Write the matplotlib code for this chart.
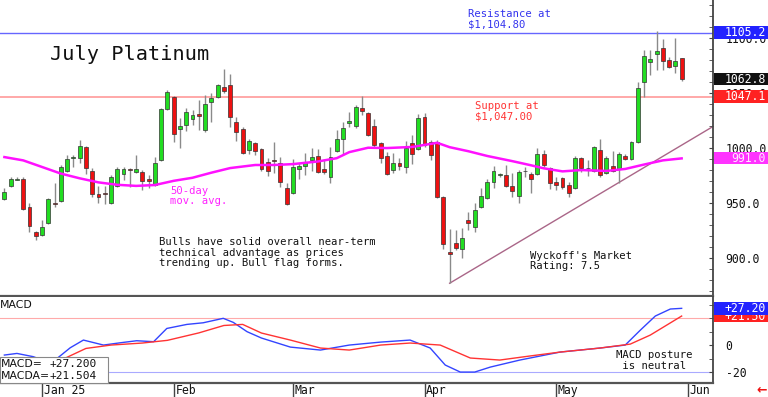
import matplotlib
matplotlib.use("Agg")
import matplotlib.pyplot as plt
from matplotlib.patches import Rectangle
from matplotlib.transforms import blended_transform_factory
from matplotlib.ticker import MultipleLocator, FuncFormatter

# ---------------- data ----------------
opens = [953.9, 966.0, 971.5, 971.8, 947.0, 923.9, 921.2, 931.8, 950.3, 952.4,
         979.7, 991.5, 990.9, 1001.5, 979.4, 958.2, 959.1, 950.6, 965.7, 976.3,
         980.9, 978.2, 978.2, 972.1, 966.6, 989.4, 1035.4, 1046.3, 1017.2, 1021.2,
         1026.7, 1031.2, 1016.6, 1042.4, 1047.0, 1056.0, 1057.5, 1023.6, 1017.5, 998.5,
         1004.5, 999.1, 987.8, 989.4, 986.3, 963.6, 959.1, 980.9, 983.9, 989.4,
         993.0, 980.9, 974.2, 997.9, 1008.2, 1022.7, 1020.3, 1036.3, 1032.4, 1020.3,
         1005.1, 993.0, 980.3, 987.0, 983.3, 1005.1, 999.1, 1028.8, 1006.0, 1006.0,
         956.0, 905.4, 913.6, 908.2, 934.8, 928.2, 947.0, 954.5, 969.7, 975.6,
         975.7, 965.7, 956.6, 979.6, 976.6, 976.3, 994.5, 981.8, 969.1, 972.7,
         966.7, 963.6, 991.5, 982.1, 979.7, 998.5, 977.3, 984.2, 981.2, 993.3,
         990.0, 1005.4, 1060.0, 1078.8, 1085.4, 1091.5, 1080.3, 1075.1, 1081.8]
highs = [963.6, 974.2, 974.0, 974.2, 950.6, 925.1, 934.8, 954.5, 968.2, 984.8,
         994.0, 994.0, 1007.6, 1002.1, 981.8, 965.7, 965.7, 975.7, 982.7, 982.7,
         981.8, 994.0, 980.3, 975.7, 992.4, 1037.0, 1053.0, 1047.6, 1027.3, 1036.4,
         1034.8, 1044.0, 1048.5, 1050.0, 1058.5, 1071.8, 1067.6, 1028.2, 1019.7, 1008.2,
         1006.0, 1000.0, 990.9, 1006.0, 992.4, 968.2, 990.0, 987.0, 995.4, 1000.0,
         999.1, 990.0, 1000.9, 1016.6, 1024.2, 1033.3, 1039.4, 1047.5, 1033.3, 1026.3,
         1006.0, 997.0, 996.0, 990.9, 1006.9, 1012.1, 1031.2, 1031.8, 1007.6, 1007.6,
         956.6, 926.3, 925.7, 927.3, 942.4, 950.0, 963.6, 971.8, 983.9, 977.9,
         984.8, 977.9, 980.3, 982.7, 978.8, 1000.0, 998.5, 983.3, 974.2, 974.2,
         969.7, 993.0, 992.4, 989.4, 1002.4, 1008.5, 993.3, 997.6, 996.9, 994.5,
         1006.7, 1060.6, 1089.4, 1089.4, 1106.5, 1099.4, 1083.3, 1100.6, 1082.4]
lows = [953.0, 965.1, 971.0, 943.9, 924.2, 916.7, 920.3, 931.2, 947.0, 951.5,
        978.8, 982.7, 986.3, 976.6, 956.0, 950.0, 949.4, 949.4, 964.5, 971.2,
        964.5, 977.9, 962.1, 963.6, 966.0, 988.8, 1034.8, 1006.0, 1000.0, 1016.0,
        1021.2, 1016.6, 1015.0, 1024.2, 1045.4, 1050.0, 1019.7, 1007.0, 994.8, 994.8,
        993.9, 979.4, 974.8, 977.3, 964.5, 948.5, 958.5, 971.8, 975.7, 979.7,
        977.9, 976.6, 968.8, 997.0, 994.8, 1019.7, 1018.2, 1030.3, 1011.2, 1001.5,
        986.3, 975.7, 977.2, 980.3, 977.9, 985.7, 998.5, 1001.5, 989.4, 954.5,
        908.2, 877.3, 907.6, 900.0, 925.7, 924.2, 945.4, 953.6, 963.6, 973.6,
        965.1, 955.4, 950.0, 974.2, 959.1, 975.7, 983.3, 963.0, 962.1, 963.0,
        956.1, 963.0, 978.8, 975.1, 978.8, 974.2, 976.3, 978.8, 968.2, 989.4,
        989.4, 1004.5, 1047.0, 1066.6, 1071.2, 1071.2, 1073.3, 1068.2, 1061.2]
closes = [960.6, 972.1, 972.2, 944.5, 929.4, 920.3, 928.8, 953.9, 949.7, 983.3,
          990.3, 992.4, 1002.4, 981.8, 958.2, 955.4, 958.8, 974.2, 980.9, 981.2,
          980.3, 981.2, 970.3, 970.3, 986.3, 1035.4, 1050.9, 1013.0, 1020.6, 1033.3,
          1030.3, 1029.4, 1040.3, 1045.4, 1057.5, 1052.4, 1028.2, 1015.1, 995.4, 1006.7,
          997.9, 981.2, 979.7, 988.2, 969.7, 949.4, 983.3, 983.9, 987.2, 991.8,
          978.8, 978.8, 991.8, 1008.2, 1018.2, 1024.8, 1037.2, 1034.2, 1012.1, 1003.0,
          990.9, 976.6, 987.0, 983.9, 1000.0, 994.8, 1027.2, 1003.0, 993.9, 955.4,
          913.0, 903.9, 909.7, 918.2, 932.4, 943.9, 956.6, 969.1, 979.4, 975.9,
          965.7, 961.5, 978.8, 979.1, 972.1, 994.5, 984.8, 968.2, 966.7, 965.1,
          959.7, 991.5, 982.4, 981.8, 1000.9, 975.7, 991.5, 979.7, 994.8, 990.0,
          1005.4, 1055.1, 1084.2, 1081.2, 1088.5, 1079.4, 1074.2, 1079.4, 1062.8]

# 50-day moving average, read at candle positions
ma_idx = [0, 3, 6, 9, 12, 15, 18, 21, 24, 27, 30, 33, 36, 40, 43, 46, 50, 53, 55,
          58, 61, 65, 68, 69, 71, 74, 77, 81, 84, 86, 89, 92, 96, 99, 102, 105, 108]
ma_val = [992.0, 989.0, 983.0, 977.0, 972.7, 969.0, 966.8, 965.8, 966.6, 970.4,
          973.2, 977.8, 982.0, 984.8, 984.8, 985.6, 988.0, 991.0, 996.5, 1000.5,
          1000.2, 1001.2, 1004.0, 1005.0, 1001.0, 997.3, 993.0, 988.3, 984.5, 981.8,
          979.0, 980.2, 979.4, 981.2, 985.2, 989.0, 990.8]

# MACD lines, read at candle positions
macd_idx = [0, 2, 4.6, 6, 8.4, 10.5, 12.6, 15.8, 18.5, 21.1, 23.8, 25.9, 29.1, 31.7,
            34.9, 36.5, 38.7, 41, 45.6, 50.4, 55, 60, 64.7, 67.9, 70.3, 72.7, 75,
            77.5, 82.2, 88.6, 95, 99, 101.4, 103.8, 106.2, 108]
macd_val = [-7.4, -6.2, -8.6, -11.0, -9.9, -2.0, 3.7, 0.0, 1.7, 3.2, 2.5, 12.3, 15.3,
            16.5, 19.8, 16.8, 9.9, 5.2, -1.5, -3.7, 0.0, 2.2, 3.7, -2.2, -14.8, -20.0,
            -20.0, -16.3, -11.1, -5.2, -2.2, 0.0, 11.0, 21.5, 26.7, 27.2]
sig_idx = [0, 9.6, 13, 17, 22, 26, 31, 35, 38, 41, 45.6, 50.4, 55, 60, 64.7, 69.5,
           74.3, 79, 83.8, 88.6, 95, 99.8, 103, 108]
sig_val = [-9.9, -9.9, -2.5, 0.0, 1.5, 3.5, 9.0, 14.5, 15.3, 8.9, 3.7, -2.2, -3.7,
           0.0, 1.5, 0.0, -9.6, -11.1, -8.1, -5.2, -2.2, 0.7, 7.4, 21.5]

month_idx = [6, 27, 46, 67, 88, 109]
month_lbl = ["Jan 25", "Feb", "Mar", "Apr", "May", "Jun"]

resistance = 1104.8
support = 1047.0
trend_idx = [71, 113]
trend_val = [877.3, 1019.8]

# ---------------- figure ----------------
W, H = 768, 397
fig = plt.figure(figsize=(W / 100, H / 100), dpi=100)
fig.patch.set_facecolor("white")
mono = "DejaVu Sans Mono"

def fx(px):
    return px / W

def fy(py):
    return 1 - py / H

ax = fig.add_axes([0, fy(296), fx(713), 296 / H])
axm = fig.add_axes([0, fy(383), fx(713), (383 - 297) / H])

n = len(closes)
xmin, xmax = -0.7, 113.0
for a in (ax, axm):
    a.set_xlim(xmin, xmax)
    a.set_facecolor("white")
    for s in ("left", "top"):
        a.spines[s].set_visible(False)
    a.spines["right"].set_color("#444444")
    a.spines["right"].set_linewidth(1.3)
    a.spines["bottom"].set_color("#555555")
    a.spines["bottom"].set_linewidth(1.6)

ax.set_ylim(865.7, 1134.8)

# candles
for i in range(n):
    o, h, l, c = opens[i], highs[i], lows[i], closes[i]
    col = "#22dd22" if c >= o else "#ee1111"
    ax.vlines(i, l, h, color="#8a8a8a", lw=1.0, zorder=2)
    bot = min(o, c)
    ht = max(abs(c - o), 0.6)
    ax.bar(i, ht, bottom=bot, width=0.62, color=col, edgecolor="#333333",
           linewidth=0.5, zorder=3)

ax.plot(ma_idx, ma_val, color="#ff11ff", lw=1.8, zorder=4)
ax.axhline(resistance, color="#6666ff", lw=1.0, zorder=1)
ax.axhline(support, color="#ff9999", lw=1.2, zorder=1)
ax.plot(trend_idx, trend_val, color="#aa6688", lw=1.0, zorder=1)

# right axis of the price panel
ax.yaxis.tick_right()
ax.yaxis.set_major_locator(MultipleLocator(50))
ax.yaxis.set_minor_locator(MultipleLocator(10))
ax.yaxis.set_major_formatter(FuncFormatter(lambda v, p: f"{v:.1f}"))
ax.tick_params(axis="y", which="both", direction="in", length=3, color="#444444",
               pad=9, labelsize=8.3, labelcolor="#111111")
for t in ax.get_yticklabels():
    t.set_family(mono)
ax.set_xticks([])

# texts on the price panel
ax.text(7.3, 1084.8, "July Platinum", fontsize=14.6, family=mono, color="#111111",
        va="center", ha="left")
ax.text(73.9, 1117.0, "Resistance at\n$1,104.80", fontsize=7.6, family=mono,
        color="#3333ee", va="center", ha="left", linespacing=1.05)
ax.text(75.0, 1034.0, "Support at\n$1,047.00", fontsize=7.6, family=mono,
        color="#ff3333", va="center", ha="left", linespacing=1.05)
ax.text(26.4, 956.6, "50-day\nmov. avg.", fontsize=7.6, family=mono,
        color="#ff22ff", va="center", ha="left", linespacing=1.05)
ax.text(24.6, 905.0, "Bulls have solid overall near-term\ntechnical advantage as prices\ntrending up. Bull flag forms.",
        fontsize=7.6, family=mono, color="#111111", va="center", ha="left",
        linespacing=1.05)
ax.text(83.8, 897.5, "Wyckoff's Market\nRating: 7.5", fontsize=7.6, family=mono,
        color="#111111", va="center", ha="left", linespacing=1.05)

# MACD panel
axm.set_ylim(-28.1, 35.6)
axm.plot(macd_idx, macd_val, color="#3344ff", lw=1.0, zorder=3)
axm.plot(sig_idx, sig_val, color="#ff3333", lw=1.0, zorder=3)
axm.axhline(20, color="#ffaaaa", lw=0.8, zorder=1)
axm.axhline(-20, color="#aaaaff", lw=0.8, zorder=1)
axm.yaxis.tick_right()
axm.set_yticks([-20, 0])
axm.set_yticklabels(["-20", "0"])
axm.yaxis.set_minor_locator(MultipleLocator(10))
axm.tick_params(axis="y", which="both", direction="in", length=3, color="#444444",
                pad=9, labelsize=8.3, labelcolor="#111111")
for t in axm.get_yticklabels():
    t.set_family(mono)
axm.set_xticks(month_idx)
axm.set_xticklabels([])
axm.tick_params(axis="x", direction="out", length=14, width=1.0, color="#444444")
tb = blended_transform_factory(axm.transData, axm.transAxes)
for xi, lb in zip(month_idx, month_lbl):
    axm.text(xi + 0.25, -0.085, lb, transform=tb, fontsize=8.3, family=mono,
             color="#111111", ha="left", va="center", clip_on=False)
axm.text(0.0, 0.91, "MACD", transform=axm.transAxes, fontsize=7.8,
         family="DejaVu Sans", color="#111111", ha="left", va="center")
axm.text(97.5, -11.5, "MACD posture\n is neutral", fontsize=7.6, family=mono,
         color="#111111", ha="left", va="center", linespacing=1.05)

# legend box of MACD values
fig.patches.append(Rectangle((fx(0), fy(383)), fx(108), (383 - 357) / H,
                             transform=fig.transFigure, fc="white", ec="#888888",
                             lw=0.8, zorder=5))
fig.text(fx(1), fy(364), "MACD=", fontsize=7.8, family="DejaVu Sans",
         color="#111111", va="center", ha="left", zorder=6)
fig.text(fx(1), fy(376), "MACDA=", fontsize=7.8, family="DejaVu Sans",
         color="#111111", va="center", ha="left", zorder=6)
fig.text(fx(50), fy(364), "+27.200", fontsize=8.0, family=mono,
         color="#111111", va="center", ha="left", zorder=6)
fig.text(fx(50), fy(376), "+21.504", fontsize=8.0, family=mono,
         color="#111111", va="center", ha="left", zorder=6)

# right-hand value boxes
def right_box(a, val, txt, fc, tc, z):
    yd = a.transData.transform((0, val))[1]
    yf = fig.transFigure.inverted().transform((0, yd))[1]
    h = 12.5 / H
    fig.patches.append(Rectangle((fx(714), yf - h / 2), fx(54), h,
                                 transform=fig.transFigure, fc=fc, ec="none",
                                 zorder=z))
    fig.text(fx(766), yf, txt, ha="right", va="center", color=tc, fontsize=8.3,
             family=mono, zorder=z + 0.5)

right_box(ax, 1047.1, "1047.1", "#ff2222", "white", 5)
right_box(ax, 1062.8, "1062.8", "#111111", "white", 5)
right_box(ax, 991.0, "991.0", "#ff33ff", "#ffe8ff", 5)
right_box(ax, 1105.2, "1105.2", "#2222ff", "white", 5)
right_box(axm, 21.5, "+21.50", "#ff2222", "white", 5)
right_box(axm, 27.2, "+27.20", "#2222ff", "white", 7)

fig.text(fx(762), fy(390), "\u2190", ha="center", va="center", color="#ee1111",
         fontsize=9, fontweight="bold")

fig.savefig("out.png", dpi=100, facecolor="white")
